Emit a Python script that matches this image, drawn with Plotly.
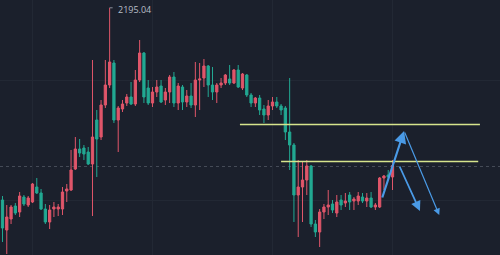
import plotly.graph_objects as go

# ---- data (price units) ----
candle_index = list(range(92))
opens = [2156.6, 2150.6, 2152.8, 2155.4, 2154.2, 2157.2, 2155.6, 2156.2, 2159.2, 2158.0,
         2154.8, 2152.2, 2154.8, 2154.8, 2154.8, 2158.4, 2158.6, 2162.8, 2166.8, 2167.0,
         2166.2, 2163.8, 2172.6, 2169.2, 2175.6, 2179.6, 2184.0, 2172.6, 2174.8, 2176.0,
         2177.2, 2175.8, 2180.6, 2186.0, 2179.0, 2176.0, 2178.2, 2179.4, 2176.6, 2178.2,
         2181.2, 2176.0, 2179.2, 2176.2, 2177.4, 2175.6, 2180.6, 2181.0, 2183.4, 2179.6,
         2178.2, 2179.6, 2180.0, 2180.8, 2180.0, 2182.6, 2179.0, 2181.6, 2177.6, 2176.0,
         2177.0, 2174.8, 2173.6, 2175.4, 2176.2, 2175.4, 2175.0, 2170.2, 2167.6, 2157.6,
         2159.2, 2160.6, 2163.4, 2151.8, 2150.2, 2154.2, 2155.2, 2155.8, 2154.0, 2156.6,
         2156.0, 2157.6, 2156.4, 2156.4, 2157.2, 2156.4, 2157.0, 2155.2, 2155.2, 2161.0,
         2161.6, 2161.2]
highs = [2157.4, 2155.6, 2155.6, 2156.0, 2158.2, 2157.6, 2157.4, 2160.0, 2161.0, 2158.8,
         2155.8, 2155.6, 2156.2, 2155.8, 2159.2, 2159.8, 2166.6, 2169.2, 2168.8, 2167.6,
         2167.2, 2184.6, 2174.6, 2176.6, 2184.6, 2195.04, 2184.6, 2175.4, 2176.6, 2177.8,
         2180.2, 2182.6, 2188.6, 2186.2, 2180.6, 2179.2, 2180.6, 2180.6, 2179.0, 2181.6,
         2182.2, 2180.0, 2179.6, 2178.6, 2180.0, 2184.2, 2184.0, 2184.8, 2183.6, 2183.2,
         2180.0, 2181.0, 2181.8, 2183.6, 2182.8, 2183.6, 2182.0, 2181.8, 2178.0, 2177.2,
         2177.6, 2175.6, 2176.6, 2177.2, 2177.2, 2175.8, 2175.4, 2181.0, 2168.0, 2164.6,
         2164.2, 2164.6, 2163.6, 2152.6, 2154.8, 2155.8, 2158.6, 2156.6, 2157.6, 2157.6,
         2158.0, 2158.2, 2157.2, 2158.2, 2158.0, 2158.0, 2158.2, 2156.0, 2161.2, 2161.6,
         2162.6, 2164.6]
lows = [2148.2, 2145.8, 2151.8, 2153.6, 2153.2, 2155.4, 2155.2, 2156.0, 2157.8, 2154.6,
        2151.8, 2150.8, 2153.2, 2153.4, 2153.6, 2156.2, 2158.4, 2162.6, 2165.2, 2164.6,
        2163.6, 2153.4, 2161.2, 2168.6, 2175.0, 2179.0, 2172.0, 2166.2, 2174.2, 2175.4,
        2175.6, 2175.4, 2180.2, 2176.0, 2175.6, 2175.2, 2177.2, 2176.0, 2175.6, 2176.0,
        2175.2, 2174.6, 2174.6, 2175.2, 2175.0, 2173.2, 2174.6, 2179.2, 2177.2, 2176.6,
        2176.0, 2179.0, 2179.6, 2179.6, 2179.8, 2179.0, 2178.6, 2177.2, 2175.2, 2175.2,
        2173.6, 2172.0, 2172.6, 2174.6, 2175.0, 2173.6, 2168.6, 2162.6, 2152.2, 2149.2,
        2152.2, 2157.6, 2151.2, 2149.2, 2147.2, 2152.8, 2153.6, 2154.0, 2153.2, 2154.6,
        2155.2, 2154.6, 2154.6, 2155.6, 2156.0, 2155.2, 2155.0, 2154.6, 2155.0, 2158.6,
        2160.6, 2158.6]
closes = [2151.0, 2153.2, 2155.2, 2154.0, 2157.4, 2155.8, 2157.0, 2159.8, 2158.0, 2154.8,
          2152.2, 2154.6, 2155.2, 2155.2, 2158.2, 2158.8, 2162.6, 2166.8, 2166.0, 2165.8,
          2163.8, 2169.2, 2168.8, 2175.6, 2179.6, 2184.2, 2172.6, 2175.0, 2175.8, 2177.2,
          2175.8, 2180.6, 2186.0, 2177.2, 2176.0, 2178.2, 2179.2, 2176.2, 2178.2, 2181.2,
          2176.0, 2179.4, 2176.2, 2177.4, 2175.6, 2180.6, 2180.8, 2183.4, 2179.6, 2178.2,
          2179.6, 2180.0, 2181.6, 2180.0, 2182.6, 2179.2, 2181.8, 2177.6, 2176.0, 2177.0,
          2174.6, 2173.6, 2175.4, 2176.2, 2175.4, 2174.6, 2170.2, 2167.6, 2157.6, 2159.2,
          2160.6, 2163.4, 2151.8, 2150.2, 2154.2, 2155.2, 2155.6, 2154.6, 2156.2, 2155.6,
          2156.4, 2156.2, 2156.8, 2157.4, 2156.4, 2157.0, 2155.2, 2155.6, 2161.0, 2161.4,
          2161.2, 2163.5]

peak_label = "2195.04"
peak_index = 25
peak_value = 2195.04

current_price = 2163.3

level_prices = [2171.7, 2164.3]
level_starts = [55.4, 65.0]
level_ends = [111.4, 111.0]

arrow_tail_x = [88.5, 93.7, 92.5]
arrow_tail_y = [2156.8, 2170.4, 2163.6]
arrow_head_x = [93.7, 101.9, 97.4]
arrow_head_y = [2170.4, 2153.6, 2154.4]
arrow_widths = [2.2, 1.2, 1.8]

# ---- styles ----
BG = "#1b202c"
GRID = "#222834"
RED = "#e0566a"
GREEN = "#22a892"
YELLOW = "#d6e48c"
BLUE = "#4a9ae6"

fig = go.Figure()
fig.add_trace(go.Candlestick(
    x=candle_index, open=opens, high=highs, low=lows, close=closes,
    increasing=dict(line=dict(color=RED, width=1), fillcolor=RED),
    decreasing=dict(line=dict(color=GREEN, width=1), fillcolor=GREEN),
    whiskerwidth=0, showlegend=False, hoverinfo="skip"))

# current price dotted line
fig.add_shape(type="line", xref="paper", x0=0, x1=1, yref="y",
              y0=current_price, y1=current_price,
              line=dict(color="#454b57", width=1, dash="dot"), layer="below")

# horizontal levels
for p, s, e in zip(level_prices, level_starts, level_ends):
    fig.add_shape(type="line", x0=s, x1=e, y0=p, y1=p,
                  line=dict(color=YELLOW, width=1.5))

# arrows
for tx, ty, hx, hy, w in zip(arrow_tail_x, arrow_tail_y, arrow_head_x, arrow_head_y, arrow_widths):
    fig.add_annotation(x=hx, y=hy, ax=tx, ay=ty, xref="x", yref="y",
                       axref="x", ayref="y", text="", showarrow=True,
                       arrowhead=2, arrowsize=1.1, arrowwidth=w, arrowcolor=BLUE)

# peak label
fig.add_shape(type="line", x0=peak_index, x1=peak_index + 1.2,
              y0=peak_value, y1=peak_value,
              line=dict(color="#8a8f9a", width=1, dash="dot"))
fig.add_annotation(x=peak_index + 1.6, y=peak_value, text=peak_label,
                   xref="x", yref="y", showarrow=False, xanchor="left",
                   yanchor="middle", yshift=-2,
                   font=dict(family="Open Sans, sans-serif", size=9, color="#b9bdc7"))

fig.update_layout(
    width=500, height=255, margin=dict(l=0, r=0, t=0, b=0),
    paper_bgcolor=BG, plot_bgcolor=BG, boxgap=0.25,
    xaxis=dict(range=[-0.58, 116.08], showgrid=True, gridcolor=GRID, gridwidth=1,
               tick0=7, dtick=28, showticklabels=False, zeroline=False,
               rangeslider=dict(visible=False), showline=False, ticks=""),
    yaxis=dict(range=[2145.6, 2196.6], showgrid=True, gridcolor=GRID, gridwidth=1,
               tick0=2156.6, dtick=24, showticklabels=False, zeroline=False,
               showline=False, ticks=""),
)

fig.write_html("out.html")
